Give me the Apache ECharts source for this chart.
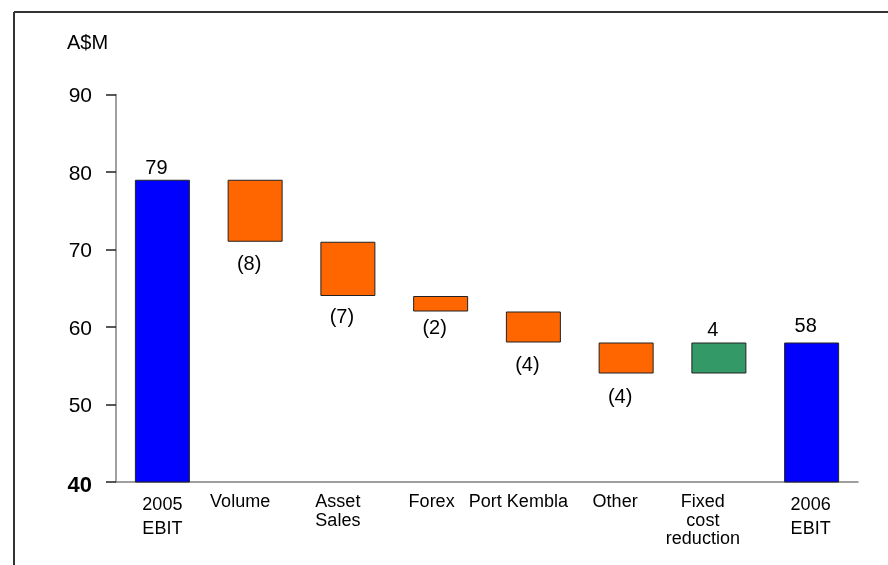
<!DOCTYPE html>
<html>
<head>
<meta charset="utf-8">
<script src="https://cdn.jsdelivr.net/npm/echarts@6/dist/echarts.min.js"></script>
<style>html,body{margin:0;padding:0;background:#fff}#c{width:888px;height:565px}</style>
</head>
<body>
<div id="c"></div>
<script>
// ---- data ----
const categories = ['2005\nEBIT', 'Volume', 'Asset\nSales', 'Forex', 'Port Kembla', 'Other', 'Fixed\ncost\nreduction', '2006\nEBIT'];
const changes = [79, -8, -7, -2, -4, -4, 4, 58];
const kinds = ['total', 'delta', 'delta', 'delta', 'delta', 'delta', 'delta', 'total'];
const valueLabels = ['79', '(8)', '(7)', '(2)', '(4)', '(4)', '4', '58'];
const yTicks = [40, 50, 60, 70, 80, 90];
const unitLabel = 'A$M';

// ---- styles ----
const COLORS = { total: '#0000FF', down: '#FF6600', up: '#339966' };
const labelDistance = [1, 13, 11, 7, 13, 14, 2, 6];
const catShift = [0, 15, 10, 9, 15, 11, 16, 1];
const catLineHeight = [24, 18.5, 18.5, 18.5, 18.5, 18.5, 18.5, 24];
const NARROW = "'Liberation Sans Narrow','Arial Narrow','Liberation Sans',Arial,sans-serif";
const SANS = "'Liberation Sans',Arial,sans-serif";

// ---- build waterfall ----
const baseData = [], barData = [];
let running = 0;
changes.forEach((v, i) => {
  let base, h, color, pos;
  if (kinds[i] === 'total') { base = 0; h = v; running = v; color = COLORS.total; pos = 'top'; }
  else if (v < 0) { base = running + v; h = -v; running += v; color = COLORS.down; pos = 'bottom'; }
  else { base = running; h = v; running += v; color = COLORS.up; pos = 'top'; }
  baseData.push(base);
  barData.push({
    value: h,
    itemStyle: { color: color },
    label: { show: true, position: pos, distance: labelDistance[i], formatter: valueLabels[i] }
  });
});

const rich = {};
categories.forEach((c, i) => {
  rich['s' + i] = { fontFamily: NARROW, fontSize: 18, color: '#000', lineHeight: catLineHeight[i], padding: [0, catShift[i] * 2, 0, 0] };
});

const chart = echarts.init(document.getElementById('c'));
chart.setOption({
  animation: false,
  backgroundColor: '#fff',
  title: { text: unitLabel, left: 67, top: 33, padding: 0, textStyle: { fontFamily: SANS, fontSize: 20, fontWeight: 'normal', color: '#000' } },
  grid: { left: 116, right: 30, top: 94.5, bottom: 83 },
  xAxis: {
    type: 'category',
    data: categories,
    axisLine: { show: true, lineStyle: { color: '#808080', width: 1.5 } },
    axisTick: { show: false },
    axisLabel: {
      interval: 0, margin: 11,
      formatter: (v, i) => v.split('\n').map(l => '{s' + i + '|' + l + '}').join('\n'),
      rich: rich
    }
  },
  yAxis: {
    type: 'value',
    min: yTicks[0], max: yTicks[yTicks.length - 1], interval: 10,
    splitLine: { show: false },
    axisLine: { show: true, lineStyle: { color: '#808080', width: 1.5 } },
    axisTick: { show: true, inside: false, length: 10, lineStyle: { color: '#222', width: 1.5 } },
    axisLabel: {
      margin: 24,
      formatter: v => (v === yTicks[0] ? '{b|' + v + '}' : '{n|' + v + '}'),
      rich: {
        n: { fontFamily: SANS, fontSize: 21, color: '#000', padding: [4, 0, 0, 0] },
        b: { fontFamily: SANS, fontSize: 22, fontWeight: 'bold', color: '#000', padding: [8, 0, 0, 0] }
      }
    }
  },
  series: [
    {
      type: 'bar', stack: 'w', data: baseData, barWidth: 55,
      itemStyle: { color: 'transparent', borderWidth: 0 },
      emphasis: { disabled: true }, silent: true
    },
    {
      type: 'bar', stack: 'w', data: barData, barWidth: 55,
      itemStyle: { borderColor: '#222', borderWidth: 1 },
      label: { fontFamily: SANS, fontSize: 20, color: '#000', offset: [-6, 0] }
    }
  ],
  graphic: [
    { type: 'line', shape: { x1: 14, y1: 12, x2: 888, y2: 12 }, style: { stroke: '#333', lineWidth: 2 } },
    { type: 'line', shape: { x1: 14, y1: 12, x2: 14, y2: 565 }, style: { stroke: '#333', lineWidth: 2 } }
  ]
});
</script>
</body>
</html>
